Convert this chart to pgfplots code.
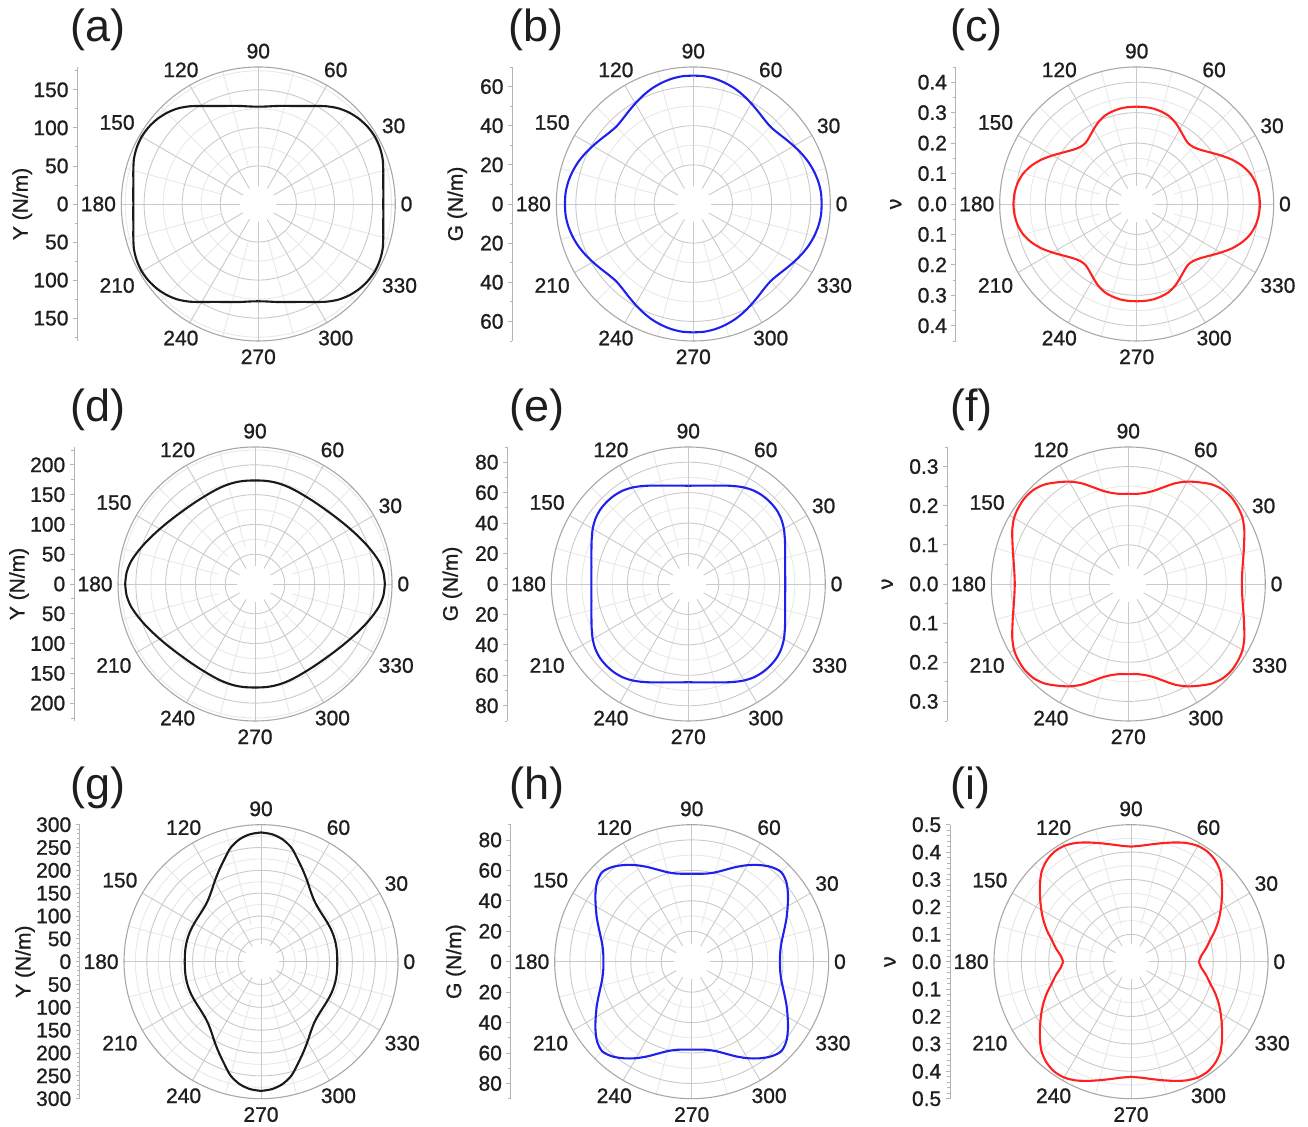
\documentclass[border=0pt]{standalone}
\usepackage{fontspec}
\setmainfont{Liberation Sans}
\newfontface\lblfont{Liberation Sans}[RawFeature={embolden=1.0}]
\usepackage{pgfplots}
\usepackage{pgfplotstable}
\pgfplotsset{compat=1.18}

\definecolor{curveblack}{HTML}{1A1A1A}
\definecolor{curveblue}{HTML}{2020EE}
\definecolor{curvered}{HTML}{FF2020}
\definecolor{gridmaj}{HTML}{CACACA}
\definecolor{gridmin}{HTML}{E8E8E8}
\definecolor{rimcol}{HTML}{A8A8A8}
\definecolor{axcol}{HTML}{B4B4B4}
\definecolor{txt}{HTML}{1E1E1E}

% ---------- data: angle (deg) and radius, first quadrant (curves are symmetric) ----------
\pgfplotstableread{
t r
0 164.2
5 164.9
10 166.7
15 170.0
20 173.8
25 176.1
30 176.9
35 175.9
40 173.4
45 169.5
50 164.0
55 156.7
60 148.7
65 142.0
70 137.0
75 133.4
80 130.7
85 128.6
90 127.8
}\dataA
\pgfplotstableread{
t r
0 65.6
5 65.5
10 64.9
15 63.9
20 62.6
25 61.0
30 59.3
35 57.7
40 56.4
45 55.8
50 56.4
55 57.7
60 59.3
65 61.0
70 62.6
75 63.9
80 64.9
85 65.5
90 65.6
}\dataB
\pgfplotstableread{
t r
0 0.405
5 0.403
10 0.397
15 0.386
20 0.368
25 0.345
30 0.319
35 0.295
40 0.276
45 0.264
50 0.2615
55 0.270
60 0.283
65 0.297
70 0.308
75 0.314
80 0.318
85 0.3195
90 0.3195
}\dataC
\pgfplotstableread{
t r
0 218.0
5 216.5
10 212.0
15 204.8
20 197.5
25 190.6
30 184.6
35 179.6
40 175.6
45 172.6
50 170.8
55 169.9
60 169.8
65 170.6
70 171.9
75 173.1
80 173.9
85 174.0
90 173.8
}\dataD
\pgfplotstableread{
t r
0 63.7
5 63.9
10 64.6
15 65.9
20 67.7
25 70.0
30 72.5
35 74.5
40 75.7
45 76.0
50 75.8
55 74.9
60 73.2
65 71.0
70 68.8
75 66.9
80 65.6
85 64.9
90 64.5
}\dataE
\pgfplotstableread{
t r
0 0.290
5 0.292
10 0.297
15 0.305
20 0.315
25 0.327
30 0.337
35 0.342
40 0.344
45 0.341
50 0.332
55 0.317
60 0.302
65 0.284
70 0.263
75 0.246
80 0.236
85 0.231
90 0.2305
}\dataF
\pgfplotstableread{
t r
0 167.0
5 167.3
10 168.0
15 168.5
20 168.8
25 168.8
30 168.6
35 168.8
40 170.0
45 173.0
50 179.0
55 189.0
60 203.0
65 219.0
70 237.0
75 258.0
80 272.0
85 280.0
90 283.0
}\dataG
\pgfplotstableread{
t r
0 58.0
5 58.3
10 59.5
15 61.8
20 65.0
25 68.8
30 72.8
35 77.2
40 81.2
45 83.2
50 81.2
55 77.5
60 73.2
65 68.6
70 64.2
75 60.8
80 58.8
85 58.0
90 57.8
}\dataH
\pgfplotstableread{
t r
0 0.2475
5 0.258
10 0.278
15 0.298
20 0.325
25 0.352
30 0.378
35 0.405
40 0.434
45 0.462
50 0.480
55 0.489
60 0.488
65 0.478
70 0.463
75 0.448
80 0.435
85 0.425
90 0.420
}\dataI

\pgfplotsset{
  polarpanel/.style={
    anchor=south west,
    axis x line=none,
    axis y line*=left,
    enlargelimits=false,
    clip=false,
    tick align=outside,
    major tick length=2.2pt,
    minor tick length=1.3pt,
    every tick/.style={axcol, line width=0.4pt},
    axis line style={axcol, line width=0.5pt},
    yticklabel style={font=\lblfont\fontsize{10.5}{12}\selectfont, text=txt, inner sep=2pt},
  },
}
\tikzset{
  gmaj/.style={draw=gridmaj, line width=0.45pt},
  gmin/.style={draw=gridmin, line width=0.45pt},
  albl/.style={font=\lblfont\fontsize{10.5}{12}\selectfont, text=txt, inner xsep=1pt, inner ysep=2.5pt},
}

\newcommand{\alab}[3]{\node[albl,anchor=#3] at (axis cs:{1.022*#1*cos(#2)},{1.022*#1*sin(#2)}) {#2};}
% #1 = outer radius, #2 = major circles, #3 = minor circles
\newcommand{\polarframe}[3]{%
  \pgfplotsinvokeforeach{#3}{\draw[gmin] (axis cs:0,0) circle[radius=##1];}
  \pgfplotsinvokeforeach{15,45,75,105,135,165,195,225,255,285,315,345}{%
    \draw[gmin] (axis cs:{0.28*#1*cos(##1)},{0.28*#1*sin(##1)}) -- (axis cs:{#1*cos(##1)},{#1*sin(##1)});}
  \pgfplotsinvokeforeach{#2}{\draw[gmaj] (axis cs:0,0) circle[radius=##1];}
  \pgfplotsinvokeforeach{0,30,60,90,120,150,180,210,240,270,300,330}{%
    \draw[gmaj] (axis cs:{0.13*#1*cos(##1)},{0.13*#1*sin(##1)}) -- (axis cs:{#1*cos(##1)},{#1*sin(##1)});}
  \draw[rimcol, line width=0.55pt] (axis cs:0,0) circle[radius=#1];
  \alab{#1}{0}{180}\alab{#1}{30}{210}\alab{#1}{60}{240}\alab{#1}{90}{270}
  \alab{#1}{120}{300}\alab{#1}{150}{330}\alab{#1}{180}{0}\alab{#1}{210}{30}
  \alab{#1}{240}{60}\alab{#1}{270}{90}\alab{#1}{300}{120}\alab{#1}{330}{150}
}
% #1 = outer radius, #2 = factor, #3 = text
\newcommand{\ylab}[3]{\node[rotate=90, font=\lblfont\fontsize{10.5}{12}\selectfont, text=txt] at (axis cs:{-#2*#1},0) {#3};}
% #1 = colour, #2 = table
\newcommand{\curve}[2]{%
  \addplot[#1, line width=1.05pt, smooth, data cs=polar] table[x=t, y=r] {#2};
  \addplot[#1, line width=1.05pt, smooth, data cs=polar] table[x expr={180-\thisrow{t}}, y=r] {#2};
  \addplot[#1, line width=1.05pt, smooth, data cs=polar] table[x expr={180+\thisrow{t}}, y=r] {#2};
  \addplot[#1, line width=1.05pt, smooth, data cs=polar] table[x expr={360-\thisrow{t}}, y=r] {#2};
}

\begin{document}
\begin{tikzpicture}
\path (0,0) rectangle (654pt,563.5pt);

% ---------------- row 1 ----------------
\begin{axis}[polarpanel, at={(38.65pt,393pt)}, x=0.380556pt, y=0.380556pt,
  xmin=-237.8, xmax=180, ymin=-180, ymax=180,
  ytick={-150,-100,-50,0,50,100,150}, yticklabels={150,100,50,0,50,100,150},
  minor ytick={-175,-125,-75,-25,25,75,125,175}]
  \polarframe{180}{50,100,150}{75,125,175}
  \ylab{180}{1.7227}{Y (N/m)}
  \curve{curveblack}{\dataA}
\end{axis}

\begin{axis}[polarpanel, at={(256.15pt,393pt)}, x=0.978571pt, y=0.978571pt,
  xmin=-92.48, xmax=70, ymin=-70, ymax=70,
  ytick={-60,-40,-20,0,20,40,60}, yticklabels={60,40,20,0,20,40,60},
  minor ytick={-70,-50,-30,-10,10,30,50,70}]
  \polarframe{70}{20,40,60}{30,50}
  \ylab{70}{1.7227}{G (N/m)}
  \curve{curveblue}{\dataB}
\end{axis}

\begin{axis}[polarpanel, at={(477.85pt,393pt)}, x=152.222pt, y=152.222pt,
  xmin=-0.5945, xmax=0.45, ymin=-0.45, ymax=0.45,
  ytick={-0.4,-0.3,-0.2,-0.1,0,0.1,0.2,0.3,0.4}, yticklabels={0.4,0.3,0.2,0.1,0.0,0.1,0.2,0.3,0.4},
  minor ytick={-0.45,-0.35,-0.25,-0.15,-0.05,0.05,0.15,0.25,0.35,0.45}]
  \polarframe{0.45}{0.1,0.2,0.3,0.4}{0.15,0.25,0.35}
  \ylab{0.45}{1.759}{ν}
  \curve{curvered}{\dataC}
\end{axis}

% ---------------- row 2 ----------------
\begin{axis}[polarpanel, at={(37pt,203pt)}, x=0.297826pt, y=0.297826pt,
  xmin=-303.9, xmax=230, ymin=-230, ymax=230,
  ytick={-200,-150,-100,-50,0,50,100,150,200}, yticklabels={200,150,100,50,0,50,100,150,200},
  minor ytick={-225,-175,-125,-75,-25,25,75,125,175,225}]
  \polarframe{230}{50,100,150,200}{75,125,175,225}
  \ylab{230}{1.7227}{Y (N/m)}
  \curve{curveblack}{\dataD}
\end{axis}

\begin{axis}[polarpanel, at={(253.65pt,203pt)}, x=0.761111pt, y=0.761111pt,
  xmin=-118.9, xmax=90, ymin=-90, ymax=90,
  ytick={-80,-60,-40,-20,0,20,40,60,80}, yticklabels={80,60,40,20,0,20,40,60,80},
  minor ytick={-90,-70,-50,-30,-10,10,30,50,70,90}]
  \polarframe{90}{20,40,60,80}{30,50,70}
  \ylab{90}{1.7227}{G (N/m)}
  \curve{curveblue}{\dataE}
\end{axis}

\begin{axis}[polarpanel, at={(473.65pt,203pt)}, x=195.714pt, y=195.714pt,
  xmin=-0.4624, xmax=0.35, ymin=-0.35, ymax=0.35,
  ytick={-0.3,-0.2,-0.1,0,0.1,0.2,0.3}, yticklabels={0.3,0.2,0.1,0.0,0.1,0.2,0.3},
  minor ytick={-0.35,-0.25,-0.15,-0.05,0.05,0.15,0.25,0.35}]
  \polarframe{0.35}{0.1,0.2,0.3}{0.15,0.25}
  \ylab{0.35}{1.759}{ν}
  \curve{curvered}{\dataF}
\end{axis}

% ---------------- row 3 ----------------
\begin{axis}[polarpanel, at={(40pt,14.15pt)}, x=0.228333pt, y=0.228333pt,
  xmin=-396.4, xmax=300, ymin=-300, ymax=300,
  ytick={-300,-250,-200,-150,-100,-50,0,50,100,150,200,250,300},
  yticklabels={300,250,200,150,100,50,0,50,100,150,200,250,300},
  minor tick num=4]
  \polarframe{300}{50,100,150,200,250}{75,125,175,225,275}
  \ylab{300}{1.7227}{Y (N/m)}
  \curve{curveblack}{\dataG}
\end{axis}

\begin{axis}[polarpanel, at={(255.35pt,14.15pt)}, x=0.761111pt, y=0.761111pt,
  xmin=-118.9, xmax=90, ymin=-90, ymax=90,
  ytick={-80,-60,-40,-20,0,20,40,60,80}, yticklabels={80,60,40,20,0,20,40,60,80},
  minor ytick={-90,-70,-50,-30,-10,10,30,50,70,90}]
  \polarframe{90}{20,40,60,80}{30,50,70}
  \ylab{90}{1.7227}{G (N/m)}
  \curve{curveblue}{\dataH}
\end{axis}

\begin{axis}[polarpanel, at={(475pt,14.15pt)}, x=137pt, y=137pt,
  xmin=-0.6606, xmax=0.5, ymin=-0.5, ymax=0.5,
  ytick={-0.5,-0.4,-0.3,-0.2,-0.1,0,0.1,0.2,0.3,0.4,0.5},
  yticklabels={0.5,0.4,0.3,0.2,0.1,0.0,0.1,0.2,0.3,0.4,0.5},
  minor tick num=4]
  \polarframe{0.5}{0.1,0.2,0.3,0.4}{0.15,0.25,0.35,0.45}
  \ylab{0.5}{1.759}{ν}
  \curve{curvered}{\dataI}
\end{axis}

% ---------------- panel letters ----------------
\foreach \lx/\ly/\lt in {35/548.5/(a), 254/548.5/(b), 475/548.5/(c),
                          35/358.5/(d), 254.5/358.5/(e), 475/358.5/(f),
                          35/169.5/(g), 254.5/169.5/(h), 475/169.5/(i)}
  \node[anchor=west, inner sep=0pt, font=\fontsize{22.5}{27}\selectfont, text=txt] at (\lx pt,\ly pt) {\lt};
\end{tikzpicture}
\end{document}
